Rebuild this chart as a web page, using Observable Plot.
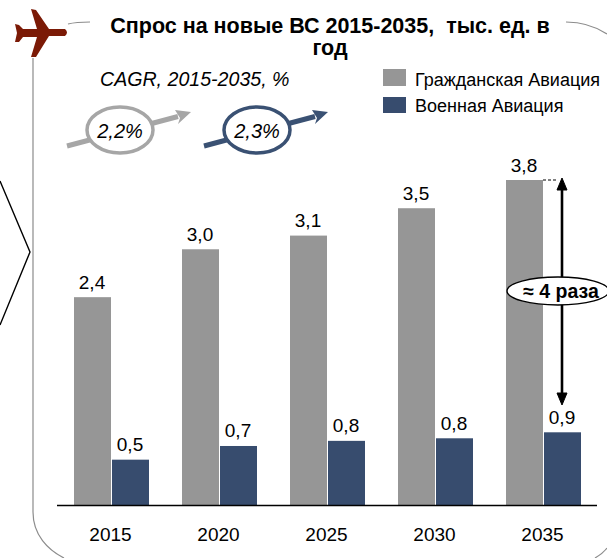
<!DOCTYPE html>
<html lang="ru">
<head>
<meta charset="utf-8">
<script src="https://cdn.jsdelivr.net/npm/d3@7"></script>
<script src="https://cdn.jsdelivr.net/npm/@observablehq/plot@0.6"></script>
<style>
html,body{margin:0;padding:0;background:#fff;overflow:hidden}
#root{position:relative;width:607px;height:558px;font-family:"Liberation Sans",Arial,sans-serif;color:#000;overflow:hidden}
#root>*{position:absolute;left:0;top:0}
#title{left:92px;top:15px;width:476px;text-align:center;font-weight:bold;font-size:21.5px;line-height:22px;white-space:pre-wrap;background:transparent}
</style>
</head>
<body>
<div id="root">
<svg id="deco" width="607" height="558" viewBox="0 0 607 558">
  <!-- frame -->
  <path d="M33 58V512C33 535 48 550 64 558M68 24C76 22 82 22 90 22M566 22C585 22 598 28 607 34M595 558C600 555 604 552 607 548" fill="none" stroke="#8c8c8c" stroke-width="1.2"/>
  <!-- side chevron -->
  <path d="M0 181L30 252L0 325" fill="none" stroke="#000" stroke-width="1.4"/>
  <!-- plane -->
  <path fill="#7b1a06" d="M31 9L36 10L49 29L65 29Q69 32.5 65 36L49 36L36 57L31 57L37 37L23 37L19 42L15 42L17 33L15 24L19 25L23 29L37 29Z"/>
  <!-- CAGR arrows -->
  <path d="M67 146L178 116.5" stroke="#a6a6a6" stroke-width="5" fill="none"/>
  <path d="M191 112L175 110L180 118L178 124Z" fill="#a6a6a6"/>
  <ellipse cx="120" cy="130" rx="33" ry="23" fill="#fff" stroke="#a6a6a6" stroke-width="3.5"/>
  <path d="M204 146L315 116.5" stroke="#3a5173" stroke-width="5" fill="none"/>
  <path d="M328 112L312 110L317 118L315 124Z" fill="#3a5173"/>
  <ellipse cx="257" cy="130" rx="33" ry="23" fill="#fff" stroke="#3a5173" stroke-width="3.5"/>
  <!-- legend swatches -->
  <rect x="383" y="69" width="23" height="17" fill="#969696"/>
  <rect x="383" y="97" width="23" height="16" fill="#374c6e"/>
</svg>
<div id="chart"></div>
<svg id="over" width="607" height="558" viewBox="0 0 607 558" style="pointer-events:none">
  <path d="M543 180H556" stroke="#000" stroke-dasharray="3 2" fill="none"/>
  <path d="M562 186V399" stroke="#000" stroke-width="2.6" fill="none"/>
  <path d="M562 178L567 190H557ZM562 405L557 393H567Z" fill="#000" stroke="#000"/>
  <ellipse cx="558" cy="291" rx="51" ry="14" fill="#fff" stroke="#000" stroke-width="1.3"/>
  <text x="561" y="298" text-anchor="middle" font-family="Liberation Sans, Arial, sans-serif" font-weight="bold" font-size="19.5">≈ 4 раза</text>
  <text x="120" y="138" text-anchor="middle" font-family="Liberation Sans, Arial, sans-serif" font-style="italic" font-size="20">2,2%</text>
  <text x="257" y="138" text-anchor="middle" font-family="Liberation Sans, Arial, sans-serif" font-style="italic" font-size="20">2,3%</text>
  <text x="100" y="86" font-family="Liberation Sans, Arial, sans-serif" font-style="italic" font-size="19.6">CAGR, 2015-2035, %</text>
  <text x="415" y="86" font-family="Liberation Sans, Arial, sans-serif" font-size="18">Гражданская Авиация</text>
  <text x="415" y="112" font-family="Liberation Sans, Arial, sans-serif" font-size="18">Военная Авиация</text>
</svg>
<div id="title">Спрос на новые ВС 2015-2035,  тыс. ед. в
год</div>
</div>
<script>
const years = ["2015", "2020", "2025", "2030", "2035"];
const seriesNames = ["Гражданская Авиация", "Военная Авиация"];
const civilValues = [2.43, 2.99, 3.15, 3.47, 3.8];
const militaryValues = [0.53, 0.69, 0.75, 0.78, 0.85];
const civilLabels = ["2,4", "3,0", "3,1", "3,5", "3,8"];
const militaryLabels = ["0,5", "0,7", "0,8", "0,8", "0,9"];
const seriesColors = ["#969696", "#374c6e"];

const rows = years.flatMap((year, i) => [
  {year, series: seriesNames[0], value: civilValues[i], label: civilLabels[i]},
  {year, series: seriesNames[1], value: militaryValues[i], label: militaryLabels[i]}
]);

const chart = Plot.plot({
  width: 607,
  height: 558,
  marginLeft: 57,
  marginRight: 10,
  marginTop: 180,
  marginBottom: 53,
  style: {background: "transparent", fontFamily: "Liberation Sans, Arial, sans-serif", color: "#000"},
  fx: {domain: years, paddingInner: 0, paddingOuter: 0, label: null},
  x: {domain: seriesNames, paddingInner: 0.03, paddingOuter: 0.42, axis: null},
  y: {domain: [0, 3.8], axis: null},
  color: {domain: seriesNames, range: seriesColors},
  marks: [
    Plot.axisFx({anchor: "bottom", tickSize: 0, tickPadding: 22, fontSize: 19, dx: -1, label: null}),
    Plot.barY(rows, {fx: "year", x: "series", y: "value", fill: "series"}),
    Plot.text(rows, {fx: "year", x: "series", y: "value", text: "label", dy: -9, dx: -1, lineAnchor: "bottom", fontSize: 19, fill: "#000"}),
    Plot.ruleY([0], {stroke: "#000", strokeWidth: 1.3})
  ]
});
document.getElementById("chart").appendChild(chart);
</script>
</body>
</html>
